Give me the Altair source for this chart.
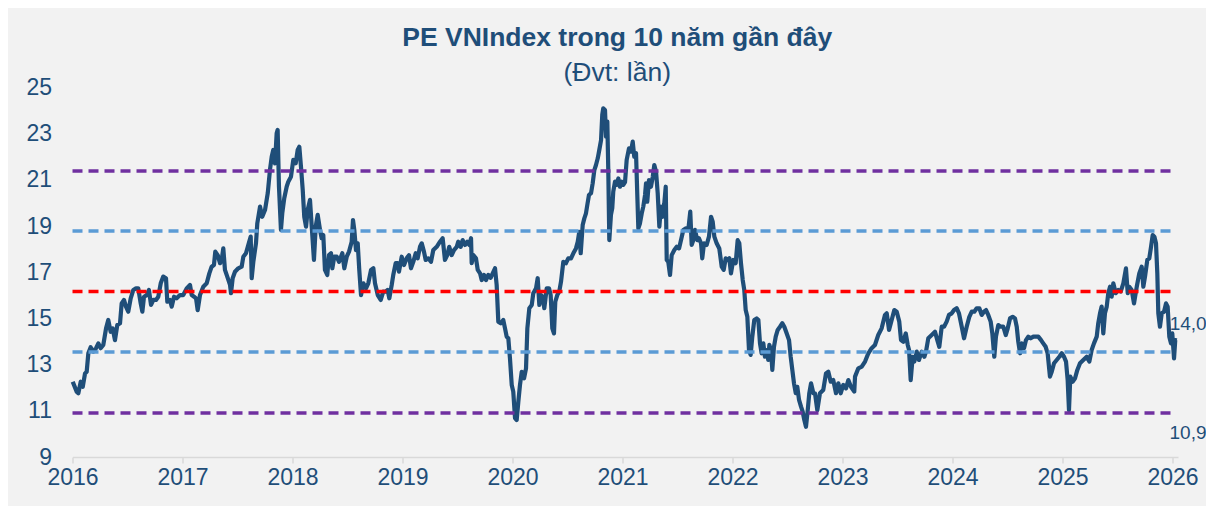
import altair as alt
import pandas as pd

# ---- PE VNIndex series (time as fraction of year, PE value) ----
frac_2016 = [.002, .038, .053, .075, .093, .114, .129, .144, .165, .189, .214, .235, .256, .280, .305, .325,
             .347, .365, .386, .407, .432, .447, .468, .486, .507, .529, .553, .577, .598, .620, .635, .650,
             .675, .695, .714, .735, .759, .780, .802, .825, .850, .862, .886, .902, .923, .947, .977]
pe_2016 = [12.26, 11.83, 11.76, 12.26, 12.04, 12.62, 12.69, 13.49, 13.75, 13.56, 13.71, 13.92, 13.71, 13.85, 14.57, 14.93,
           14.42, 14.57, 14.06, 14.71, 14.79, 15.65, 15.80, 15.51, 15.29, 15.87, 16.23, 16.30, 16.30, 15.65, 15.29, 15.94,
           16.01, 16.23, 15.58, 15.80, 15.80, 15.94, 16.52, 16.81, 16.74, 15.72, 15.80, 15.51, 15.94, 15.87, 16.01]

frac_2017 = [.007, .038, .068, .084, .105, .123, .138, .159, .189, .220, .244, .265, .286, .298, .320, .341,
             .356, .371, .386, .407, .432, .441, .456, .477, .507, .538, .553, .577, .598, .620, .629, .644,
             .668, .680, .705, .725, .750, .775, .795, .811, .825, .841, .856, .865, .877, .895, .907, .925,
             .947, .962, .986]
pe_2017 = [16.01, 16.30, 16.45, 16.01, 15.94, 15.87, 15.36, 16.01, 16.37, 16.52, 16.95, 17.24, 17.31, 17.89, 17.74, 17.39,
           17.53, 18.03, 17.10, 16.81, 16.45, 16.09, 16.74, 17.02, 17.17, 17.24, 17.67, 17.82, 18.18, 18.54, 16.74, 17.45,
           18.25, 19.12, 19.84, 19.40, 19.69, 20.42, 21.42, 22.00, 22.29, 21.71, 23.01, 23.16, 20.70, 18.83, 19.55, 20.20,
           20.70, 20.92, 21.13]

frac_2018 = [.007, .029, .047, .062, .077, .093, .107, .123, .138, .159, .175, .195, .211, .229, .250, .265,
             .280, .295, .316, .332, .350, .362, .380, .402, .423, .453, .471, .493, .514, .538, .550, .562,
             .577, .593, .607, .623, .644, .668, .689, .714, .735, .750, .775, .802, .825, .847, .865, .880,
             .902, .916, .938, .956, .968, .993]
pe_2018 = [21.86, 21.71, 22.29, 22.43, 21.57, 20.56, 19.40, 18.97, 19.69, 20.13, 18.97, 17.53, 18.97, 19.48, 18.83, 18.47,
           18.61, 17.10, 16.88, 17.74, 17.82, 17.17, 17.67, 17.67, 17.45, 17.82, 17.17, 17.67, 17.89, 18.32, 19.26, 18.83,
           17.96, 18.25, 17.10, 16.01, 16.52, 16.30, 16.52, 17.10, 17.17, 16.52, 16.01, 15.80, 16.16, 16.16, 16.23, 15.87,
           16.45, 16.88, 17.39, 17.39, 17.02, 17.67]

frac_2019 = [.014, .038, .059, .077, .098, .120, .138, .159, .175, .195, .211, .235, .259, .280, .311, .341,
             .365, .386, .407, .425, .447, .468, .493, .507, .529, .547, .568, .589, .607, .623, .629, .644,
             .668, .684, .705, .720, .741, .759, .780, .802, .820, .841, .856, .871, .893, .916, .932, .947,
             .962, .977, .993]
pe_2019 = [17.31, 17.60, 17.74, 17.17, 17.45, 17.82, 17.60, 18.10, 18.25, 17.89, 17.53, 17.60, 17.45, 17.96, 18.10, 18.32,
           18.47, 17.53, 17.74, 18.10, 17.74, 17.96, 18.10, 18.32, 18.10, 18.39, 18.18, 18.32, 18.18, 18.47, 17.39, 17.74,
           17.60, 17.10, 16.95, 16.66, 16.88, 16.66, 16.88, 16.76, 16.95, 17.17, 16.45, 14.86, 14.79, 14.93, 14.57, 14.21,
           14.14, 13.27, 12.12]

frac_2020 = [.007, .023, .038, .053, .068, .084, .105, .123, .135, .153, .175, .189, .214, .229, .244, .259,
             .275, .289, .311, .332, .347, .362, .377, .389, .407, .425, .441, .462, .486, .507, .532, .553,
             .577, .593, .607, .620, .638, .653, .668, .680, .695, .714, .729, .744, .759, .775, .789, .805,
             .816, .825, .841, .850, .862, .871, .880, .895, .907, .916, .932, .947, .962, .977, .993]
pe_2020 = [11.83, 10.68, 10.60, 11.39, 12.12, 12.69, 12.41, 12.84, 14.57, 15.44, 15.58, 16.09, 16.30, 16.74, 15.58, 16.01,
           15.94, 15.44, 16.30, 16.30, 16.01, 14.57, 14.35, 15.72, 16.01, 16.16, 16.59, 17.45, 17.39, 17.60, 17.60, 17.82,
           18.03, 18.32, 18.75, 17.82, 19.04, 19.33, 19.55, 19.91, 20.34, 20.42, 20.85, 21.42, 21.64, 21.93, 22.29, 22.72,
           23.81, 24.09, 24.02, 22.87, 23.52, 21.35, 18.39, 19.48, 19.77, 20.49, 20.92, 20.78, 21.06, 20.70, 20.92]

frac_2021 = [.007, .023, .038, .059, .077, .093, .107, .123, .135, .144, .159, .175, .189, .205, .214, .225,
             .241, .259, .275, .289, .305, .320, .335, .350, .365, .380, .393, .402, .416, .432, .447, .471,
             .493, .514, .532, .553, .577, .598, .616, .629, .644, .659, .680, .695, .714, .725, .741, .765,
             .786, .805, .820, .835, .856, .880, .902, .920, .938, .956, .971, .986]
pe_2021 = [20.78, 20.90, 21.86, 22.36, 22.22, 22.65, 22.00, 22.15, 20.27, 18.90, 19.12, 19.55, 19.84, 20.34, 20.85, 20.05,
           20.99, 20.70, 21.13, 21.64, 21.35, 20.42, 18.97, 19.84, 19.40, 19.98, 20.70, 17.53, 17.45, 16.88, 17.74, 17.96,
           18.10, 18.03, 18.39, 18.83, 18.90, 18.83, 19.62, 18.18, 18.39, 18.83, 18.39, 18.47, 18.25, 17.60, 18.25, 18.18,
           18.54, 19.40, 19.19, 18.54, 18.25, 18.03, 17.24, 17.10, 17.60, 17.53, 17.60, 16.95]

frac_2022 = [.007, .029, .047, .062, .077, .093, .107, .120, .135, .150, .165, .180, .198, .220, .235, .250,
             .265, .280, .295, .311, .325, .335, .350, .362, .377, .393, .411, .432, .453, .471, .493, .514,
             .529, .544, .559, .575, .589, .605, .623, .638, .653, .668, .684, .698, .714, .735, .750, .771,
             .795, .825, .850, .871, .893, .916, .941, .962, .984]
pe_2022 = [17.53, 17.39, 18.39, 18.25, 17.39, 16.66, 16.23, 15.36, 15.07, 13.63, 13.42, 14.21, 14.93, 15.00, 14.93, 13.92,
           13.49, 13.92, 13.34, 13.63, 13.20, 13.85, 13.63, 12.77, 13.77, 14.21, 14.50, 14.64, 14.79, 14.64, 14.35, 14.06,
           13.34, 12.77, 12.19, 11.76, 12.04, 11.47, 11.18, 10.96, 10.60, 10.31, 11.03, 11.76, 12.19, 11.76, 11.76, 11.03,
           11.76, 11.90, 12.62, 12.69, 12.26, 12.33, 11.76, 12.19, 11.76]

frac_2023 = [.007, .032, .053, .077, .107, .114, .144, .175, .205, .235, .265, .295, .325, .356, .386, .402,
             .423, .447, .471, .493, .516, .532, .553, .575, .593, .605, .620, .638, .653, .675, .695, .720,
             .744, .759, .780, .811, .841, .862, .880, .902, .923, .947, .968, .993]
pe_2023 = [12.12, 11.97, 12.33, 12.04, 11.83, 12.48, 12.84, 12.91, 13.13, 13.49, 13.71, 13.85, 14.28, 14.57, 15.15, 15.22,
           14.50, 14.93, 15.36, 15.29, 14.86, 14.06, 13.99, 14.35, 13.85, 13.63, 12.33, 13.34, 13.13, 13.56, 13.20, 13.56,
           13.34, 13.56, 14.14, 14.28, 14.42, 14.06, 13.77, 14.64, 14.64, 14.86, 15.15, 15.22]

frac_2024 = [.014, .038, .059, .084, .105, .129, .153, .175, .198, .220, .244, .265, .286, .305, .325, .347,
             .362, .380, .395, .416, .438, .462, .484, .502, .523, .547, .568, .584, .598, .614, .629, .650,
             .668, .689, .711, .735, .759, .780, .805, .825, .847, .865, .886, .902, .923, .947, .971, .993]
pe_2024 = [15.36, 15.44, 15.22, 14.64, 14.14, 14.64, 15.07, 15.29, 15.29, 15.44, 15.44, 15.15, 15.29, 15.36, 15.15, 14.86,
           14.35, 13.34, 14.21, 14.71, 14.64, 14.64, 14.28, 14.57, 15.00, 15.07, 15.00, 14.64, 13.99, 13.49, 13.92, 13.71,
           14.06, 14.21, 14.14, 14.21, 14.21, 14.21, 14.06, 13.92, 13.77, 13.49, 12.48, 12.69, 13.06, 13.20, 13.34, 13.49]

frac_2025 = [.014, .032, .047, .059, .071, .093, .114, .135, .159, .189, .220, .244, .265, .286, .311, .325,
             .341, .356, .371, .386, .402, .416, .432, .447, .462, .484, .507, .529, .553, .577, .593, .607,
             .629, .650, .675, .698, .720, .735, .750, .771, .789, .805, .820, .835, .850, .862, .871, .886,
             .902, .923, .941, .956, .971, .986, .998]
pe_2025 = [13.34, 13.13, 12.33, 11.03, 12.48, 12.26, 12.41, 12.77, 13.06, 13.20, 13.34, 13.13, 13.63, 13.92, 14.21, 14.79,
           15.22, 15.51, 14.35, 15.22, 15.51, 16.09, 16.37, 15.94, 16.52, 16.09, 16.23, 16.16, 16.52, 17.17, 16.09, 16.37,
           16.23, 15.65, 16.37, 16.95, 17.24, 16.37, 16.81, 17.53, 17.60, 18.10, 18.61, 18.54, 18.25, 16.95, 15.22, 14.64,
           15.22, 15.29, 15.65, 15.51, 14.21, 13.92, 14.35]

frac_2026 = [.014, .025, .038]
pe_2026 = [13.27, 14.06, 14.04]

# ---- reference levels (mean +/- 1 and 2 standard deviations) ----
level_values = [21.38, 18.78, 16.16, 13.55, 10.91]
level_colors = ["#7030A0", "#5B9BD5", "#FF0000", "#5B9BD5", "#7030A0"]
level_start = 2016.0
level_end = 2026.0

# ---- end labels ----
end_label_text = ["14,0", "10,9"]
end_label_t = [2026.038, 2026.0]
end_label_pe = [14.04, 10.91]

year_ticks = list(range(2016, 2027))
pe_ticks = list(range(9, 26, 2))

TXT = "#1F4E79"
FONT = "Liberation Sans"

years = {2016: (frac_2016, pe_2016), 2017: (frac_2017, pe_2017), 2018: (frac_2018, pe_2018),
         2019: (frac_2019, pe_2019), 2020: (frac_2020, pe_2020), 2021: (frac_2021, pe_2021),
         2022: (frac_2022, pe_2022), 2023: (frac_2023, pe_2023), 2024: (frac_2024, pe_2024),
         2025: (frac_2025, pe_2025), 2026: (frac_2026, pe_2026)}
rows = []
for yr, (fr, pv) in years.items():
    for f, p in zip(fr, pv):
        rows.append({"t": round(yr + f, 4), "pe": p})
df = pd.DataFrame(rows)

lv = pd.DataFrame({"y": level_values, "c": level_colors,
                   "x1": [level_start] * len(level_values), "x2": [level_end] * len(level_values)})
lab = pd.DataFrame({"t": end_label_t, "pe": end_label_pe, "txt": end_label_text})

x_scale = alt.Scale(domain=[2016, 2026.05], nice=False, zero=False)
y_scale = alt.Scale(domain=[9, 25], nice=False, zero=False)

x_axis = alt.Axis(values=year_ticks, format="d", title=None, grid=False,
                  labelFontSize=23, labelColor=TXT, labelFont=FONT,
                  domainColor="#D9D9D9", domainWidth=1.5, tickColor="#D9D9D9", tickWidth=1.5,
                  tickSize=6, labelPadding=3, labelFlush=False, labelOverlap=False)
y_axis = alt.Axis(values=pe_ticks, title=None, grid=False, domain=False, ticks=False,
                  labelFontSize=23, labelColor=TXT, labelFont=FONT, labelPadding=21)

line = alt.Chart(df).mark_line(color="#1F4E79", strokeWidth=4.2, strokeJoin="round").encode(
    x=alt.X("t:Q", scale=x_scale, axis=x_axis),
    y=alt.Y("pe:Q", scale=y_scale, axis=y_axis),
)

rules = alt.Chart(lv).mark_rule(strokeWidth=3.5, strokeDash=[10, 6]).encode(
    x=alt.X("x1:Q", scale=x_scale),
    x2="x2:Q",
    y=alt.Y("y:Q", scale=y_scale),
    color=alt.Color("c:N", scale=None),
)

lab_top = alt.Chart(lab.iloc[[0]]).mark_text(align="left", baseline="middle", dx=-7, dy=-17,
                                               fontSize=19, font=FONT, color=TXT).encode(
    x=alt.X("t:Q", scale=x_scale), y=alt.Y("pe:Q", scale=y_scale), text="txt:N")
lab_bot = alt.Chart(lab.iloc[[1]]).mark_text(align="left", baseline="middle", dx=-3, dy=20,
                                               fontSize=19, font=FONT, color=TXT).encode(
    x=alt.X("t:Q", scale=x_scale), y=alt.Y("pe:Q", scale=y_scale), text="txt:N")

chart = alt.layer(line, rules, lab_top, lab_bot).properties(
    width=1105.5,
    height=369.6,
    autosize=alt.AutoSizeParams(type="none"),
    padding={"left": 64.5, "top": 79.4, "right": 28, "bottom": 49},
    background="#F2F2F2",
    title=alt.TitleParams(
        text="PE VNIndex trong 10 năm gần đây",
        subtitle="(Đvt: lần)",
        font=FONT, subtitleFont=FONT,
        fontSize=26.5, subtitleFontSize=26.5,
        fontWeight="bold", subtitleFontWeight="normal",
        color=TXT, subtitleColor=TXT,
        anchor="middle", dx=-8, offset=-10, subtitlePadding=8,
    ),
).configure(font=FONT, view=alt.ViewConfig(stroke=None))

chart.save("out.html", embed_options={"renderer": "svg", "actions": False})
